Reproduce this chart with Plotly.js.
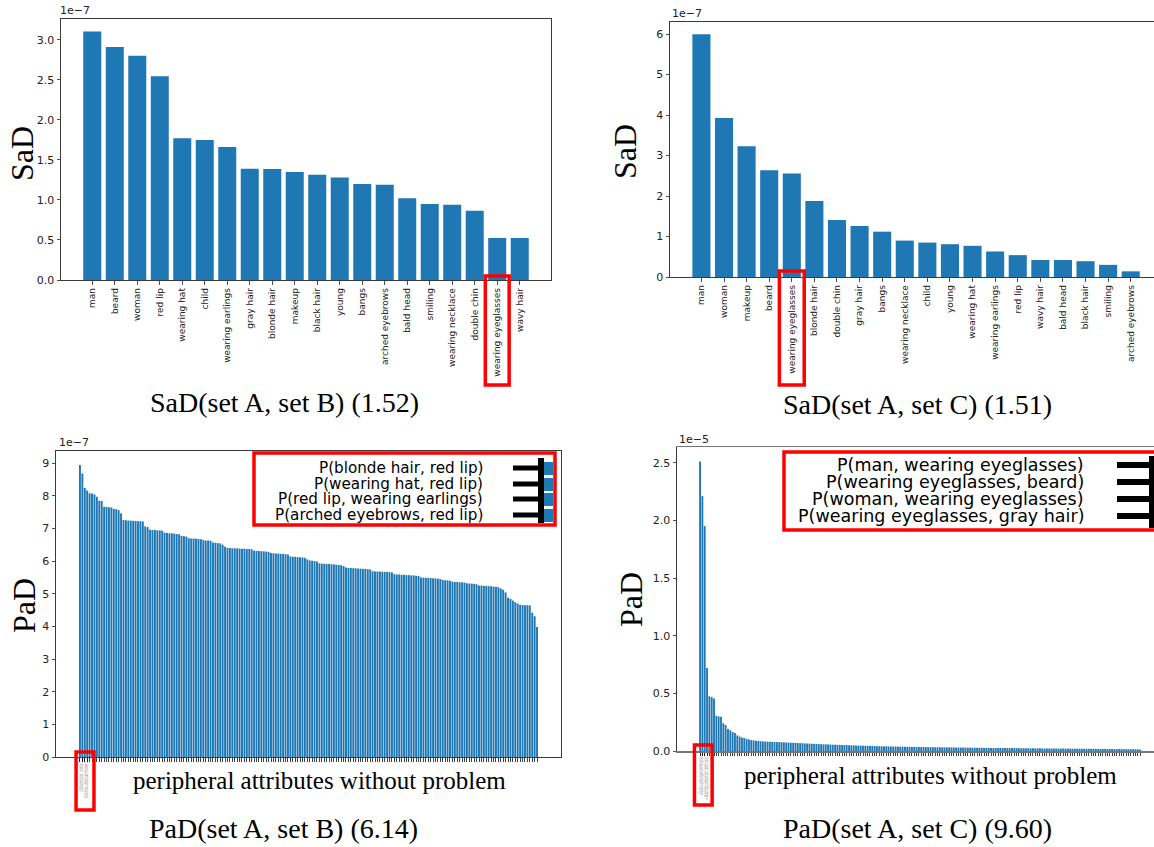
<!DOCTYPE html>
<html><head><meta charset="utf-8">
<script src="https://cdn.plot.ly/plotly-3.0.1.min.js"></script>
<style>html,body{margin:0;padding:0;background:#fff;}#chart{width:1154px;height:847px;}</style>
</head><body><div id="chart"></div>
<script>
const W = 1154, H = 847;

// ---- data (SaD values in units of 1e-7, PaD B in 1e-7, PaD C in 1e-5) ----
const sadBAttributes = ['man','beard','woman','red lip','wearing hat','child','wearing earlings','gray hair','blonde hair','makeup','black hair','young','bangs','arched eyebrows','bald head','smiling','wearing necklace','double chin','wearing eyeglasses','wavy hair'];
const sadBValues = [3.105,2.91,2.80,2.545,1.77,1.75,1.66,1.39,1.385,1.35,1.315,1.28,1.20,1.19,1.02,0.95,0.94,0.865,0.525,0.525];

const sadCAttributes = ['man','woman','makeup','beard','wearing eyeglasses','blonde hair','double chin','gray hair','bangs','wearing necklace','child','young','wearing hat','wearing earlings','red lip','wavy hair','bald head','black hair','smiling','arched eyebrows'];
const sadCValues = [6.0,3.93,3.23,2.64,2.56,1.88,1.41,1.26,1.12,0.90,0.85,0.81,0.77,0.63,0.54,0.42,0.42,0.39,0.30,0.14];

const padBValues = [
8.94,8.68,8.24,8.16,8.08,8.07,8.04,7.97,7.85,7.84,
7.66,7.66,7.65,7.64,7.60,7.59,7.56,7.46,7.26,7.25,
7.24,7.24,7.23,7.23,7.22,7.22,7.21,7.06,7.04,6.96,
6.95,6.95,6.94,6.94,6.93,6.87,6.86,6.85,6.85,6.84,
6.83,6.82,6.77,6.76,6.75,6.70,6.69,6.69,6.68,6.68,
6.67,6.64,6.63,6.63,6.62,6.57,6.56,6.55,6.54,6.50,
6.44,6.40,6.40,6.39,6.39,6.39,6.38,6.38,6.38,6.37,
6.37,6.36,6.32,6.31,6.31,6.30,6.30,6.29,6.28,6.25,
6.24,6.23,6.23,6.22,6.22,6.21,6.20,6.14,6.13,6.13,
6.12,6.12,6.11,6.10,6.05,6.02,6.01,6.00,5.99,5.93,
5.92,5.92,5.91,5.91,5.90,5.90,5.89,5.88,5.87,5.85,
5.80,5.79,5.79,5.78,5.78,5.77,5.77,5.76,5.76,5.75,
5.74,5.69,5.68,5.68,5.68,5.67,5.67,5.67,5.66,5.65,
5.60,5.59,5.59,5.58,5.58,5.57,5.57,5.56,5.56,5.55,
5.54,5.50,5.49,5.49,5.48,5.48,5.47,5.47,5.46,5.45,
5.42,5.41,5.41,5.40,5.37,5.36,5.36,5.35,5.35,5.34,
5.32,5.31,5.31,5.30,5.29,5.25,5.25,5.24,5.24,5.23,
5.23,5.22,5.21,5.20,5.16,5.12,5.04,4.88,4.84,4.79,
4.74,4.70,4.66,4.65,4.65,4.65,4.64,4.42,4.31,3.98];

const padCValues = [
2.51,2.21,1.95,0.72,0.475,0.468,0.455,0.305,0.30,0.298,
0.24,0.225,0.19,0.18,0.165,0.155,0.135,0.125,0.118,0.112,
0.105,0.100,0.095,0.092,0.089,0.087,0.085,0.083,0.082,0.081,
0.080,0.079,0.078,0.077,0.077,0.076,0.075,0.074,0.073,0.072,
0.071,0.070,0.069,0.068,0.067,0.066,0.065,0.064,0.063,0.062,
0.061,0.060,0.059,0.058,0.058,0.057,0.056,0.055,0.055,0.054,
0.053,0.052,0.052,0.051,0.050,0.049,0.049,0.048,0.047,0.047,
0.046,0.045,0.045,0.044,0.044,0.043,0.042,0.042,0.041,0.041,
0.040,0.040,0.039,0.039,0.038,0.038,0.038,0.037,0.037,0.036,
0.036,0.036,0.035,0.035,0.035,0.034,0.034,0.034,0.033,0.033,
0.033,0.033,0.032,0.032,0.032,0.032,0.031,0.031,0.031,0.031,
0.030,0.030,0.030,0.030,0.029,0.029,0.029,0.029,0.028,0.028,
0.028,0.028,0.027,0.027,0.027,0.027,0.027,0.026,0.026,0.026,
0.026,0.026,0.025,0.025,0.025,0.025,0.025,0.024,0.024,0.024,
0.024,0.024,0.023,0.023,0.023,0.023,0.023,0.022,0.022,0.022,
0.022,0.022,0.022,0.021,0.021,0.021,0.021,0.021,0.021,0.020,
0.020,0.020,0.020,0.020,0.020,0.019,0.019,0.019,0.019,0.019,
0.019,0.018,0.018,0.018,0.018,0.018,0.018,0.017,0.017,0.017,
0.017,0.017,0.016,0.016,0.016,0.016,0.015,0.015,0.015,0.014];

const padBTopPairs = ['P(blonde hair, red lip)','P(wearing hat, red lip)','P(red lip, wearing earlings)','P(arched eyebrows, red lip)'];
const padCTopPairs = ['P(man, wearing eyeglasses)','P(wearing eyeglasses, beard)','P(woman, wearing eyeglasses)','P(wearing eyeglasses, gray hair)'];

const sadBTicks = [0,0.5,1.0,1.5,2.0,2.5,3.0];
const sadCTicks = [0,1,2,3,4,5,6];
const padBTicks = [0,1,2,3,4,5,6,7,8,9];
const padCTicks = [0,0.5,1.0,1.5,2.0,2.5];

const titles = ['SaD(set A, set B) (1.52)','SaD(set A, set C) (1.51)','PaD(set A, set B) (6.14)','PaD(set A, set C) (9.60)'];
const highlighted = 'wearing eyeglasses';

// ---- helpers ----
const px = x => x / W;
const py = y => 1 - y / H;
const idx = arr => arr.map((_, i) => i);
const BLUE = '#1f77b4';
const LINE = '#3a3a3a';
const tickFont = {family: 'DejaVu Sans', size: 11, color: '#222'};

const baseAxis = {showline: true, linecolor: LINE, linewidth: 1, showgrid: false, zeroline: false,
  ticks: 'outside', ticklen: 3.5, tickwidth: 0.8, tickcolor: '#222', fixedrange: true, tickfont: tickFont};

const traces = [
  {type: 'bar', x: sadBAttributes, y: sadBValues, xaxis: 'x', yaxis: 'y', width: 0.8, marker: {color: BLUE, line: {width: 0}}},
  {type: 'bar', x: sadCAttributes, y: sadCValues, xaxis: 'x2', yaxis: 'y2', width: 0.8, marker: {color: BLUE, line: {width: 0}}},
  {type: 'bar', x: idx(padBValues), y: padBValues, xaxis: 'x3', yaxis: 'y3', width: 0.8, marker: {color: BLUE, line: {width: 0}}},
  {type: 'bar', x: idx(padCValues), y: padCValues, xaxis: 'x4', yaxis: 'y4', width: 0.8, marker: {color: BLUE, line: {width: 0}}}
];

const minorTicks = vals => ({tickmode: 'array', tickvals: vals, ticks: 'outside', ticklen: 3.5, tickwidth: 0.8,
  tickcolor: '#111', showgrid: false});
const fmt1 = v => v.toFixed(1);
const layout = {
  width: W, height: H, margin: {l: 0, r: 0, t: 0, b: 0}, paper_bgcolor: '#fff', plot_bgcolor: '#fff',
  showlegend: false, bargap: 0.2,
  xaxis: Object.assign({}, baseAxis, {domain: [px(61), px(551)], anchor: 'y', type: 'category', range: [-1.39, 20.39],
    mirror: true, tickangle: -90, tickfont: {family: 'DejaVu Sans', size: 9, color: '#222'}}),
  yaxis: Object.assign({}, baseAxis, {domain: [py(280), py(19)], anchor: 'x', range: [0, 3.26], mirror: true,
    tickmode: 'array', tickvals: sadBTicks, ticktext: sadBTicks.map(fmt1)}),
  xaxis2: Object.assign({}, baseAxis, {domain: [px(670), 1], anchor: 'y2', type: 'category', range: [-1.39, 20.03],
    mirror: true, tickangle: -90, tickfont: {family: 'DejaVu Sans', size: 9, color: '#222'}}),
  yaxis2: Object.assign({}, baseAxis, {domain: [py(277), py(22)], anchor: 'x2', range: [0, 6.3],
    tickmode: 'array', tickvals: sadCTicks, ticktext: sadCTicks.map(String)}),
  xaxis3: Object.assign({}, baseAxis, {domain: [px(56), px(561)], anchor: 'y3', range: [-9.9, 198.9], mirror: true,
    tickmode: 'array', tickvals: idx(padBTopPairs), ticktext: padBTopPairs, tickcolor: '#111',
    tickangle: -90, tickfont: {family: 'DejaVu Sans', size: 2.6, color: '#777'},
    minor: minorTicks(idx(padBValues))}),
  yaxis3: Object.assign({}, baseAxis, {domain: [py(757), py(451)], anchor: 'x3', range: [0, 9.37], mirror: true,
    tickmode: 'array', tickvals: padBTicks, ticktext: padBTicks.map(String)}),
  xaxis4: Object.assign({}, baseAxis, {domain: [px(677), 1], anchor: 'y4', range: [-9.9, 195.0], mirror: true,
    linecolor: '#777', linewidth: 1.5,
    tickmode: 'array', tickvals: idx(padCTopPairs), ticktext: padCTopPairs, tickcolor: '#111',
    tickangle: -90, tickfont: {family: 'DejaVu Sans', size: 2.6, color: '#777'},
    minor: minorTicks(idx(padCValues))}),
  yaxis4: Object.assign({}, baseAxis, {domain: [py(751), py(447)], anchor: 'x4', range: [0, 2.636],
    tickmode: 'array', tickvals: padCTicks, ticktext: padCTicks.map(fmt1)}),
  annotations: [],
  shapes: []
};

const serif = 'Liberation Serif, Times New Roman, serif';
function ann(text, x, y, opts) {
  layout.annotations.push(Object.assign({text: text, x: px(x), y: py(y), xref: 'paper', yref: 'paper',
    showarrow: false, xanchor: 'center', yanchor: 'middle', font: {family: serif, size: 28, color: '#000'}}, opts || {}));
}
// panel titles
ann(titles[0], 284, 402);
ann(titles[1], 918, 404);
ann(titles[2], 283, 828);
ann(titles[3], 918, 828);
// y-axis titles
const ytFont = {family: serif, size: 32, color: '#000'};
ann('SaD', 22, 154, {textangle: -90, font: ytFont});
ann('SaD', 625, 152, {textangle: -90, font: ytFont});
ann('PaD', 24, 606, {textangle: -90, font: ytFont});
ann('PaD', 631, 600, {textangle: -90, font: ytFont});
// x labels
ann('peripheral attributes without problem', 319, 780, {font: {family: serif, size: 25, color: '#000'}});
ann('peripheral attributes without problem', 930, 775, {font: {family: serif, size: 25, color: '#000'}});
// offset texts
const offFont = {family: 'DejaVu Sans', size: 11, color: '#222'};
ann('1e\u22127', 58, 10, {xanchor: 'left', font: offFont});
ann('1e\u22127', 670, 14, {xanchor: 'left', font: offFont});
ann('1e\u22127', 57, 442, {xanchor: 'left', font: offFont});
ann('1e\u22125', 677, 440, {xanchor: 'left', font: offFont});

function rect(x0, y0, x1, y1, opts) {
  layout.shapes.push(Object.assign({type: 'rect', xref: 'paper', yref: 'paper', x0: px(x0), x1: px(x1), y0: py(y1), y1: py(y0),
    line: {color: '#ff0000', width: 3}, fillcolor: 'rgba(0,0,0,0)'}, opts || {}));
}
function line(x0, y0, x1, y1, w) {
  layout.shapes.push({type: 'line', xref: 'paper', yref: 'paper', x0: px(x0), x1: px(x1), y0: py(y0), y1: py(y1),
    line: {color: '#000', width: w}});
}

// red boxes around highlighted tick labels (x in data coordinates)
const hiB = sadBAttributes.indexOf(highlighted), hiC = sadCAttributes.indexOf(highlighted);
layout.shapes.push({type: 'rect', xref: 'x', yref: 'paper', x0: hiB - 0.53, x1: hiB + 0.53, y0: py(385), y1: py(276),
  line: {color: '#ff0000', width: 3.5}});
layout.shapes.push({type: 'rect', xref: 'x2', yref: 'paper', x0: hiC - 0.55, x1: hiC + 0.55, y0: py(385), y1: py(271),
  line: {color: '#ff0000', width: 3.5}});
// red boxes around first tiny pair labels
layout.shapes.push({type: 'rect', xref: 'x3', yref: 'paper', x0: -1.6, x1: 5.8, y0: py(810), y1: py(752),
  line: {color: '#ff0000', width: 3.5}});
layout.shapes.push({type: 'rect', xref: 'x4', yref: 'paper', x0: -2.4, x1: 5.2, y0: py(805), y1: py(745),
  line: {color: '#ff0000', width: 3.5}});

// inset B (magnified tick labels)
rect(254, 453, 555, 525, {fillcolor: '#fff', line: {color: '#ff0000', width: 3.5}});
const rowsB = [468, 484, 499, 515];
rowsB.forEach((y, i) => {
  layout.shapes.push({type: 'rect', xref: 'paper', yref: 'paper', x0: px(544), x1: px(553), y0: py(y + 7), y1: py(y - 6),
    line: {width: 0}, fillcolor: BLUE});
  line(513, y, 541, y, 5);
  ann(padBTopPairs[i], 485, y, {xanchor: 'right', font: {family: 'DejaVu Sans', size: 15.2, color: '#000'}});
});
line(541, 458, 541, 523, 6);

// inset C
rect(784, 452, 1160, 530, {fillcolor: '#fff', line: {color: '#ff0000', width: 3.5}});
const rowsC = [465, 482, 499, 516];
rowsC.forEach((y, i) => {
  line(1117, y, 1151, y, 6);
  ann(padCTopPairs[i], 1086, y, {xanchor: 'right', font: {family: 'DejaVu Sans', size: 17.5, color: '#000'}});
});
line(1152, 456, 1152, 528, 6);

Plotly.newPlot('chart', traces, layout, {displayModeBar: false, staticPlot: true});
</script>
</body></html>
